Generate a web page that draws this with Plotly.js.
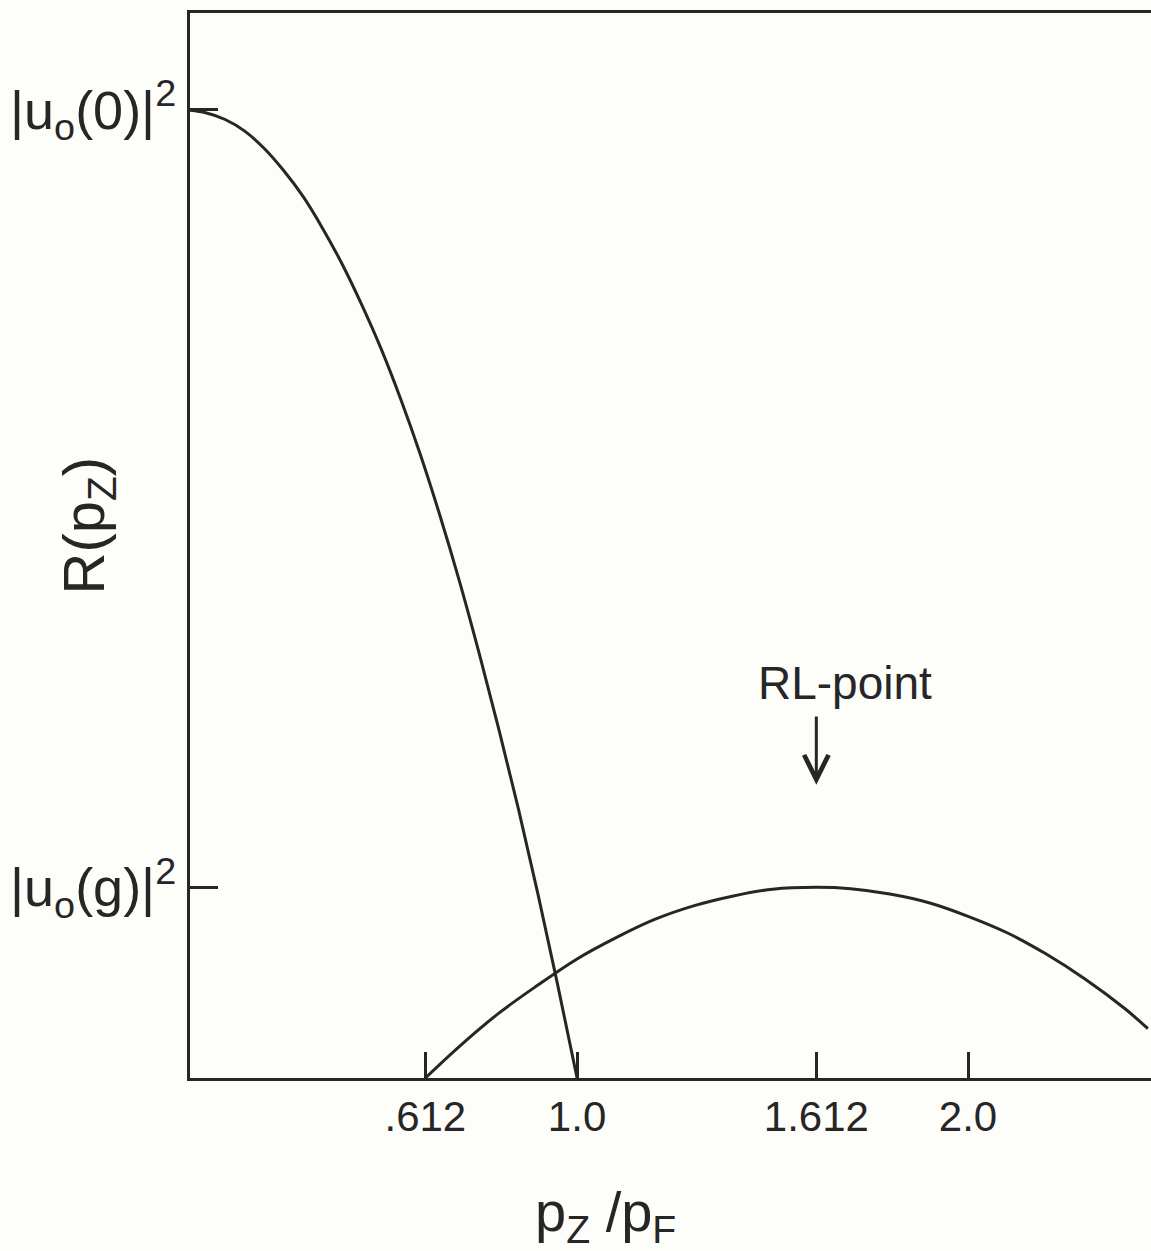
<!DOCTYPE html>
<html>
<head>
<meta charset="utf-8">
<script src="https://cdn.plot.ly/plotly-3.0.1.min.js"></script>
<style>
  html, body { margin: 0; padding: 0; background: #fdfdfa; }
  #chart { width: 1151px; height: 1251px; }
</style>
</head>
<body>
<div id="chart"></div>
<script>
// Curve falling from |u0(0)|^2 to zero at pz/pF = 1.0
const curve1X = [0.0, 0.05, 0.1, 0.15, 0.2, 0.25, 0.3, 0.35, 0.4, 0.45, 0.5,
                 0.55, 0.6, 0.65, 0.7, 0.75, 0.8, 0.85, 0.9, 0.95, 1.0];
const curve1Y = [1.0, 0.997, 0.99, 0.978, 0.96, 0.937, 0.91, 0.877, 0.84, 0.798, 0.752,
                 0.700, 0.643, 0.580, 0.512, 0.438, 0.360, 0.278, 0.19, 0.097, 0.0];

// Curve rising from .612, peaking at the RL-point (1.612)
const curve2X = [0.612, 0.7, 0.8, 0.9, 1.0, 1.1, 1.2, 1.3, 1.4, 1.5, 1.612,
                 1.7, 1.8, 1.9, 2.0, 2.1, 2.2, 2.3, 2.4, 2.46];
const curve2Y = [0.0, 0.033, 0.067, 0.096, 0.123, 0.145, 0.164, 0.178, 0.188, 0.195, 0.197,
                 0.1955, 0.19, 0.181, 0.167, 0.15, 0.128, 0.102, 0.072, 0.051];

// Axis ticks
const xTickVals = [0.612, 1.0, 1.612, 2.0];
const xTickText = [".612", "1.0", "1.612", "2.0"];
const yTickVals = [0.197, 1.0];
const yTickText = ["|u<sub>o</sub>(g)|<sup>2</sup>", "|u<sub>o</sub>(0)|<sup>2</sup>"];

// Annotation
const rlPointX = 1.612;
const rlArrowTip = 0.303;
const rlArrowTail = 0.375;
const rlLabel = "RL-point";

const ink = "#262626";
const fontFam = "Liberation Sans, Arial, sans-serif";

const traces = [
  {x: curve1X, y: curve1Y, mode: "lines", line: {color: ink, width: 3, shape: "spline", smoothing: 1}, hoverinfo: "skip"},
  {x: curve2X, y: curve2Y, mode: "lines", line: {color: ink, width: 3, shape: "spline", smoothing: 1}, hoverinfo: "skip"}
];

const layout = {
  width: 1151, height: 1251,
  margin: {l: 190, r: 0, t: 13, b: 173, pad: 0},
  paper_bgcolor: "#fdfdfa",
  plot_bgcolor: "#fdfdfa",
  showlegend: false,
  xaxis: {
    range: [0.01, 2.468],
    showgrid: false, zeroline: false,
    showline: true, linecolor: ink, linewidth: 3, mirror: true,
    ticks: "inside", ticklen: 26, tickwidth: 3, tickcolor: ink,
    tickvals: xTickVals, ticktext: xTickText,
    tickfont: {family: fontFam, size: 42, color: ink},
    ticklabelstandoff: 0
  },
  yaxis: {
    range: [0, 1.1],
    showgrid: false, zeroline: false,
    showline: true, linecolor: ink, linewidth: 3,
    ticks: "inside", ticklen: 28, tickwidth: 3, tickcolor: ink,
    tickvals: yTickVals, ticktext: yTickText,
    tickfont: {family: fontFam, size: 54, color: ink},
    ticklabelstandoff: 0
  },
  annotations: [
    {
      x: rlPointX, y: rlArrowTip, xref: "x", yref: "y",
      ax: rlPointX, ay: rlArrowTail, axref: "x", ayref: "y",
      text: "", showarrow: true, arrowhead: 5, arrowsize: 1.6, arrowwidth: 3, arrowcolor: ink
    },
    {
      x: 1.685, y: 0.408, xref: "x", yref: "y",
      xanchor: "center", yanchor: "middle",
      text: rlLabel, showarrow: false,
      font: {family: fontFam, size: 46, color: ink}
    },
    {
      x: -0.106, y: 0.519, xref: "paper", yref: "paper",
      xanchor: "center", yanchor: "middle",
      text: "R(p<sub>Z</sub>)", textangle: -90, showarrow: false,
      font: {family: fontFam, size: 58, color: ink}
    },
    {
      x: 0.432, y: -0.129, xref: "paper", yref: "paper",
      xanchor: "center", yanchor: "middle",
      text: "p<sub>Z</sub> /p<sub>F</sub>", showarrow: false,
      font: {family: fontFam, size: 56, color: ink}
    }
  ]
};

Plotly.newPlot("chart", traces, layout, {staticPlot: true, displayModeBar: false});
</script>
</body>
</html>
